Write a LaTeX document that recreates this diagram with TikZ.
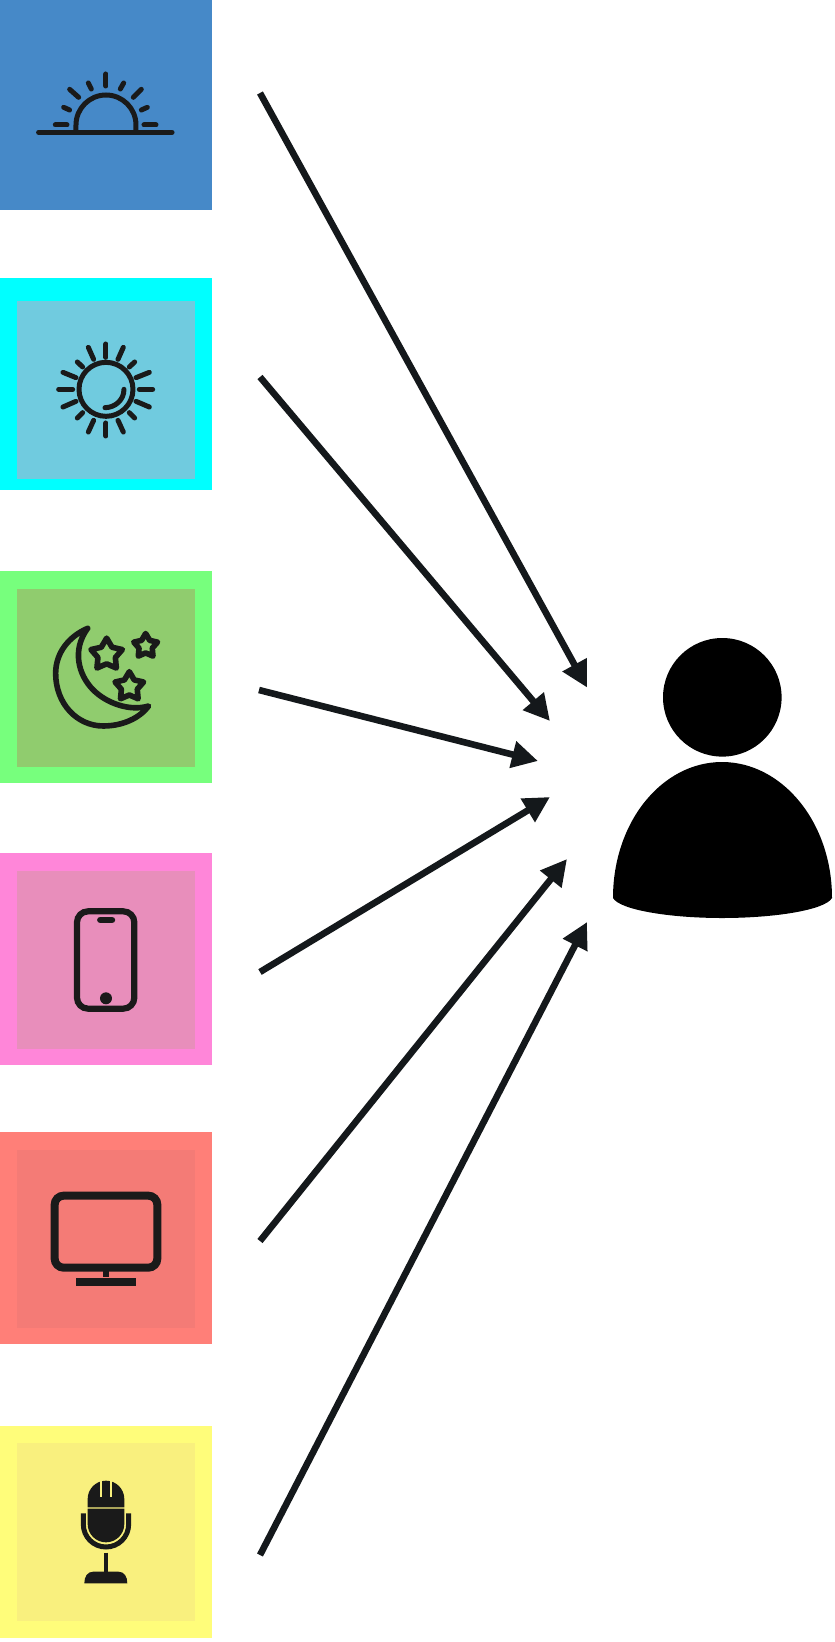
\documentclass[tikz,border=0pt]{standalone}
\usetikzlibrary{arrows.meta,shapes.geometric}
\definecolor{ink}{HTML}{1A1A1A}
\definecolor{arrowink}{HTML}{14181B}
\definecolor{blueO}{HTML}{4689C8}
\definecolor{cyanO}{HTML}{00FFFF}\definecolor{cyanI}{HTML}{70CBDF}
\definecolor{greenO}{HTML}{77FF7D}\definecolor{greenI}{HTML}{90CC6E}
\definecolor{pinkO}{HTML}{FF86D9}\definecolor{pinkI}{HTML}{E88EBB}
\definecolor{redO}{HTML}{FF7F78}\definecolor{redI}{HTML}{F47B76}
\definecolor{yellowO}{HTML}{FFFD7A}\definecolor{yellowI}{HTML}{F9F07E}
\tikzset{
 outerbox/.style={anchor=north west,minimum width=212pt,minimum height=212pt,inner sep=0pt,outer sep=0pt,fill=#1},
 innerbox/.style={anchor=north west,minimum width=178pt,minimum height=178pt,inner sep=0pt,outer sep=0pt,fill=#1},
 feed/.style={draw=arrowink,line width=6.6pt,-{Triangle[length=26pt,width=26pt,fill=arrowink]}},
 iconline/.style={draw=ink,line cap=round,line join=round,line width=#1},
 iconline/.default=5pt,
 icon/.style={shift={(0,#1)},x=0.3333pt,y=-0.3333pt},
 starshape/.style={star,star points=5,star point ratio=1.8,draw=ink,line width=5.6pt,line join=round,inner sep=0pt,outer sep=0pt,minimum size=#1}
}
\begin{document}
\begin{tikzpicture}[x=1pt,y=-1pt]
\useasboundingbox (0,0) rectangle (835,1642);
% boxes
\node[outerbox=blueO,minimum height=210pt] (b1) at (0,0) {};
\node[outerbox=cyanO] (b2) at (0,278) {};
\node[innerbox=cyanI] (i2) at (17,301) {};
\node[outerbox=greenO] (b3) at (0,571) {};
\node[innerbox=greenI] (i3) at (17,589) {};
\node[outerbox=pinkO] (b4) at (0,853) {};
\node[innerbox=pinkI] (i4) at (17,871) {};
\node[outerbox=redO] (b5) at (0,1132) {};
\node[innerbox=redI] (i5) at (17,1150) {};
\node[outerbox=yellowO] (b6) at (0,1426) {};
\node[innerbox=yellowI] (i6) at (17,1443) {};
% sunrise
\begin{scope}[icon=0]
\draw[iconline=5.2pt] (116,397)--(516,397);
\draw[iconline] (228,397)--(228,375) arc[start angle=180,end angle=360,radius=90]--(408,397);
\foreach \a/\b/\c/\d in {318/222/318/258,265/249/274/267,209/268/236/292,191/322/209/330,166/375/201/375,371/249/361/267,424/268/400/292,442/322/424/330,432/375/468/375}
 \draw[iconline] (\a,\b)--(\c,\d);
\end{scope}
% sun
\begin{scope}[icon=270]
\draw[iconline] (399,358) arc[start angle=0,end angle=360,radius=81];
\draw[iconline] (315,413) .. controls (345,413) and (372,390) .. (372,358);
\foreach \a/\b/\c/\d in {318/222/318/262,318/459/318/498,176/358/218/358,418/358/458/358,265/232/281/268,370/232/354/268,189/307/228/323,448/307/408/323,189/411/228/394,448/411/408/394,265/486/281/451,370/486/354/451,232/276/248/291,404/276/388/291,232/444/248/428,404/444/388/428}
 \draw[iconline] (\a,\b)--(\c,\d);
\end{scope}
% moon
\begin{scope}[icon=560]
\draw[iconline=5.6pt] (263,205) .. controls (205,230) and (167,280) .. (167,340)
 .. controls (167,430) and (230,498) .. (310,498)
 .. controls (370,498) and (420,473) .. (446,438)
 .. controls (390,455) and (320,430) .. (280,390)
 .. controls (235,345) and (215,270) .. (263,205);
\node[starshape=33pt] (s1) at (320,284) {};
\node[starshape=25pt] (s2) at (437,258) {};
\node[starshape=30pt] (s3) at (388,380) {};
\end{scope}
% phone
\begin{scope}[icon=845]
\draw[draw=ink,line width=6.2pt,rounded corners=11pt] (231,199) rectangle (403,491);
\draw[iconline=6.5pt] (301,225)--(336,225);
\fill[ink] (318,460) circle[radius=18];
\end{scope}
% tv
\begin{scope}[icon=1125]
\draw[draw=ink,line width=8pt,rounded corners=9pt] (164,212) rectangle (472,428);
\fill[ink] (308,438) rectangle (328,456);
\fill[ink] (229,458) rectangle (407,482);
\end{scope}
% mic
\begin{scope}[icon=1415]
\fill[ink] (263,277)--(263,252) arc[start angle=180,end angle=360,radius=55]--(373,277)--cycle;
\draw[draw=yellowI,line width=2.3pt] (303,190)--(303,245) (333,190)--(333,245);
\fill[ink] (263,281)--(373,281)--(373,327) arc[start angle=0,end angle=180,radius=55]--cycle;
\draw[draw=ink,line width=5pt] (250,295)--(250,328) arc[start angle=180,end angle=0,radius=68]--(386,295);
\draw[draw=ink,line width=3.6pt] (318,413)--(318,475);
\fill[ink] (253,505) .. controls (253,485) and (262,470) .. (280,470)--(355,470) .. controls (373,470) and (382,485) .. (382,505)--cycle;
\end{scope}
% person
\node[circle,fill=black,minimum size=118.6pt,inner sep=0pt,outer sep=0pt] (head) at (722.3,697.3) {};
\fill[black] (613,898) .. controls (613,822) and (662,762) .. (722,762) .. controls (782,762) and (832,822) .. (832,898) .. controls (825,910) and (775,918) .. (722,918) .. controls (670,918) and (620,910) .. (613,898) -- cycle;
% connectors
\coordinate (s1a) at (260,93);\coordinate (t1) at (587,687.5);
\coordinate (s2a) at (260,377);\coordinate (t2) at (550,721);
\coordinate (s3a) at (259,690);\coordinate (t3) at (538,761);
\coordinate (s4a) at (260,972);\coordinate (t4) at (550,797);
\coordinate (s5a) at (260,1241);\coordinate (t5) at (567,859);
\coordinate (s6a) at (260,1555);\coordinate (t6) at (587,922);
\draw[feed] (s1a)--(t1);
\draw[feed] (s2a)--(t2);
\draw[feed] (s3a)--(t3);
\draw[feed] (s4a)--(t4);
\draw[feed] (s5a)--(t5);
\draw[feed] (s6a)--(t6);
\end{tikzpicture}
\end{document}
